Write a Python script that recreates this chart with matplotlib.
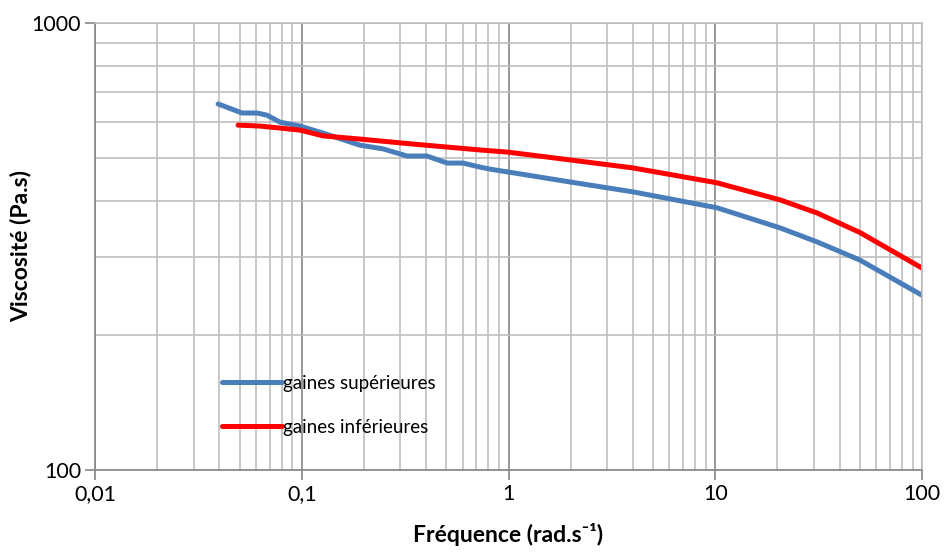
import numpy as np
import matplotlib
matplotlib.use('Agg')
import matplotlib.pyplot as plt
from matplotlib.ticker import LogLocator, FixedLocator, FixedFormatter, NullFormatter

plt.rcParams['font.family'] = ['Lato', 'DejaVu Sans']

# valeurs
freq_sup = [0.0394, 0.0514, 0.0608, 0.0679, 0.0785, 0.098, 0.127, 0.191, 0.247,
            0.323, 0.403, 0.505, 0.603, 0.728, 0.814, 1.0, 1.98, 4.0, 10.2,
            20.6, 31, 50, 100]
visc_sup = [659, 629, 629, 622, 600, 588, 567, 533, 523,
            504, 504, 486, 486, 476, 471, 464, 441, 419, 386,
            348, 324, 295, 246]

freq_inf = [0.0492, 0.0628, 0.0785, 0.098, 0.127, 0.191, 0.345, 0.728, 1.0,
            1.98, 4.0, 10.2, 20.6, 31, 50, 100]
visc_inf = [591, 588, 582, 576, 559, 550, 536, 520, 514,
            494, 474, 439, 402, 376, 340, 283]

xticks = [0.01, 0.1, 1, 10, 100]
xlabels = ['0,01', '0,1', '1', '10', '100']
yticks = [100, 1000]
ylabels = ['100', '1000']

fig = plt.figure(figsize=(9.46, 5.54), dpi=100)
ax = fig.add_axes([95/946, 1 - 470/554, 827/946, 447/554])

ax.plot(freq_sup, visc_sup, color='#4a7ebb', lw=3.6, label='gaines supérieures',
        solid_capstyle='round', solid_joinstyle='round')
ax.plot(freq_inf, visc_inf, color='#ff0000', lw=3.6, label='gaines inférieures',
        solid_capstyle='round', solid_joinstyle='round')

ax.set_xscale('log')
ax.set_yscale('log')
ax.set_xlim(0.01, 100)
ax.set_ylim(100, 1000)

ax.xaxis.set_major_locator(FixedLocator(xticks))
ax.xaxis.set_major_formatter(FixedFormatter(xlabels))
ax.xaxis.set_minor_locator(LogLocator(base=10, subs=np.arange(2, 10)))
ax.xaxis.set_minor_formatter(NullFormatter())
ax.yaxis.set_major_locator(FixedLocator(yticks))
ax.yaxis.set_major_formatter(FixedFormatter(ylabels))
ax.yaxis.set_minor_locator(LogLocator(base=10, subs=np.arange(2, 10)))
ax.yaxis.set_minor_formatter(NullFormatter())

ax.grid(True, which='major', axis='x', color='#868686', lw=1.2)
ax.grid(True, which='minor', axis='both', color='#bfbfbf', lw=1.2)
ax.grid(True, which='major', axis='y', color='#bfbfbf', lw=1.2)
ax.set_axisbelow(True)

for s in ['top', 'right']:
    ax.spines[s].set_color('#bfbfbf')
    ax.spines[s].set_linewidth(1.2)
for s in ['left', 'bottom']:
    ax.spines[s].set_color('#868686')
    ax.spines[s].set_linewidth(1.2)

ax.tick_params(which='major', length=7, width=1.2, color='#868686',
               labelsize=15.5, pad=3)
ax.tick_params(which='minor', length=0)

ax.set_xlabel('Fréquence (rad.s⁻¹)', fontsize=16.5, fontweight='bold')
ax.xaxis.set_label_coords(0.5, -0.118)
ax.set_ylabel('Viscosité (Pa.s)', fontsize=16.5, fontweight='bold')
ax.yaxis.set_label_coords(-0.077, 0.5)

ax.legend(loc='upper left', bbox_to_anchor=(0.145, 0.23), frameon=False,
          fontsize=13.5, handlelength=3.2, handletextpad=0.05,
          labelspacing=1.45, borderaxespad=0)

fig.savefig('out.png', dpi=100)
